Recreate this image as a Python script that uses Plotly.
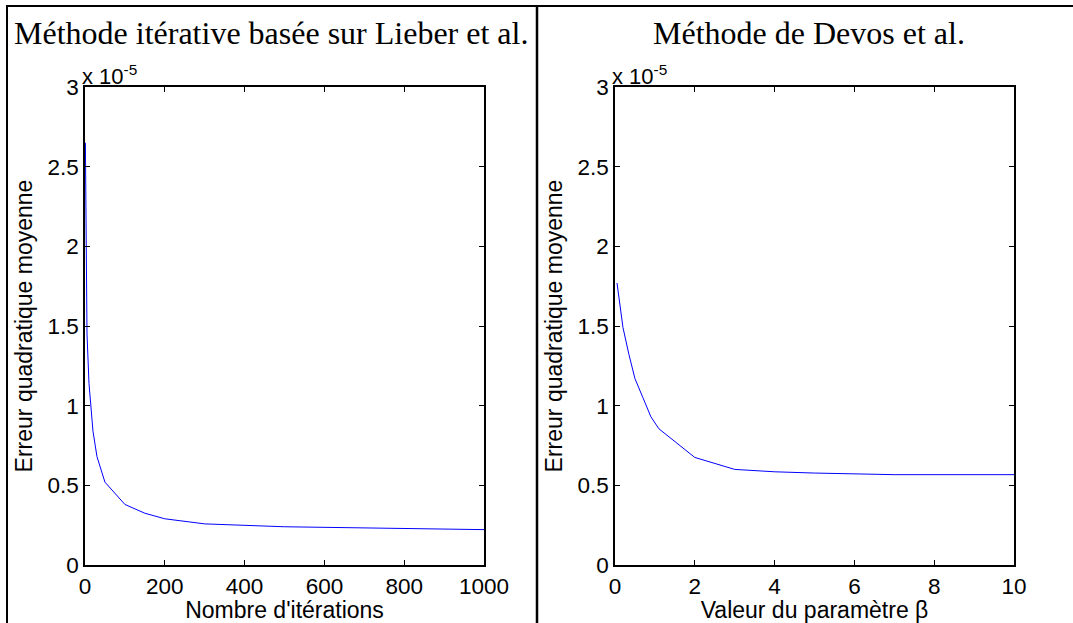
import plotly.graph_objects as go

W, H = 1073, 623

# Left panel: iterative method (Lieber et al.)
iterations = [1, 5, 10, 20, 30, 50, 100, 150, 200, 300, 500, 1000]
mse_lieber = [2.65e-5, 1.45e-5, 1.14e-5, 0.84e-5, 0.68e-5, 0.52e-5, 0.38e-5,
              0.325e-5, 0.29e-5, 0.258e-5, 0.24e-5, 0.222e-5]

# Right panel: Devos et al. method
beta = [0.05, 0.2, 0.35, 0.5, 0.7, 0.85, 0.9, 1.1, 2, 3, 4, 5, 7, 10]
mse_devos = [1.77e-5, 1.49e-5, 1.32e-5, 1.17e-5, 1.05e-5, 0.96e-5, 0.93e-5,
             0.855e-5, 0.675e-5, 0.60e-5, 0.585e-5, 0.577e-5, 0.567e-5, 0.567e-5]

y_tickvals = [0, 0.5e-5, 1e-5, 1.5e-5, 2e-5, 2.5e-5, 3e-5]
y_ticktext = ["0", "0.5", "1", "1.5", "2", "2.5", "3"]
x1_ticks = [0, 200, 400, 600, 800, 1000]
x2_ticks = [0, 2, 4, 6, 8, 10]

titles = ["Méthode itérative basée sur Lieber et al.", "Méthode de Devos et al."]
xlabels = ["Nombre d'itérations", "Valeur du paramètre β"]
ylabel = "Erreur quadratique moyenne"

SANS = "Liberation Sans, Arial, Helvetica, sans-serif"
SERIF = "Liberation Serif, Times New Roman, serif"

def px(x):
    return x / W

def py(y):
    return 1 - y / H

fig = go.Figure()
fig.add_trace(go.Scatter(x=iterations, y=mse_lieber, mode="lines",
                         line=dict(color="#0000ff", width=1), xaxis="x", yaxis="y",
                         showlegend=False))
fig.add_trace(go.Scatter(x=beta, y=mse_devos, mode="lines",
                         line=dict(color="#0000ff", width=1), xaxis="x2", yaxis="y2",
                         showlegend=False))

ax_common = dict(showline=True, linecolor="black", linewidth=1.6, mirror="allticks",
                 ticks="inside", ticklen=5, tickcolor="black", tickwidth=1,
                 showgrid=False, zeroline=False, automargin=False,
                 tickfont=dict(family=SANS, size=22.5, color="black"))

title_font = dict(family=SANS, size=23, color="black")

ydom = [py(565), py(87)]
fig.update_layout(
    template="none",
    width=W, height=H,
    margin=dict(l=0, r=0, t=0, b=0, pad=0),
    paper_bgcolor="white", plot_bgcolor="white",
    xaxis=dict(domain=[px(85), px(484)], range=[0, 1000], tickvals=x1_ticks,
               anchor="y",
               title=dict(text=xlabels[0], standoff=2, font=title_font),
               **ax_common),
    yaxis=dict(domain=ydom, range=[0, 3e-5], tickvals=y_tickvals, ticktext=y_ticktext,
               anchor="x",
               title=dict(text=ylabel, standoff=8, font=title_font),
               **ax_common),
    xaxis2=dict(domain=[px(615), px(1014)], range=[0, 10], tickvals=x2_ticks,
                anchor="y2",
                title=dict(text=xlabels[1], standoff=2, font=title_font),
                **ax_common),
    yaxis2=dict(domain=ydom, range=[0, 3e-5], tickvals=y_tickvals, ticktext=y_ticktext,
                anchor="x2",
                title=dict(text=ylabel, standoff=8, font=title_font),
                **ax_common),
)

annotations = [
    dict(text=titles[0], x=px(271), y=py(33), xref="paper", yref="paper",
         xanchor="center", yanchor="middle", showarrow=False,
         font=dict(family=SERIF, size=32, color="black")),
    dict(text=titles[1], x=px(809), y=py(33), xref="paper", yref="paper",
         xanchor="center", yanchor="middle", showarrow=False,
         font=dict(family=SERIF, size=32, color="black")),
    dict(text="x 10<sup>-5</sup>", x=px(80), y=py(91), xref="paper", yref="paper",
         xanchor="left", yanchor="bottom", showarrow=False,
         font=dict(family=SANS, size=22, color="black")),
    dict(text="x 10<sup>-5</sup>", x=px(610), y=py(91), xref="paper", yref="paper",
         xanchor="left", yanchor="bottom", showarrow=False,
         font=dict(family=SANS, size=22, color="black")),
]
fig.update_layout(annotations=annotations)

# Table-like frame lines
shapes = [
    dict(type="line", xref="paper", yref="paper", x0=px(7), x1=px(7), y0=0, y1=py(6),
         line=dict(color="black", width=2)),
    dict(type="line", xref="paper", yref="paper", x0=px(6), x1=1, y0=py(6), y1=py(6),
         line=dict(color="black", width=2)),
    dict(type="line", xref="paper", yref="paper", x0=px(537), x1=px(537), y0=0, y1=py(6),
         line=dict(color="black", width=2.5)),
]
fig.update_layout(shapes=shapes)

fig.write_html(
    "out.html",
    config={"displayModeBar": False},
    post_script="document.body.style.margin='0';document.body.style.padding='0';"
                "document.body.style.overflow='hidden';",
)
